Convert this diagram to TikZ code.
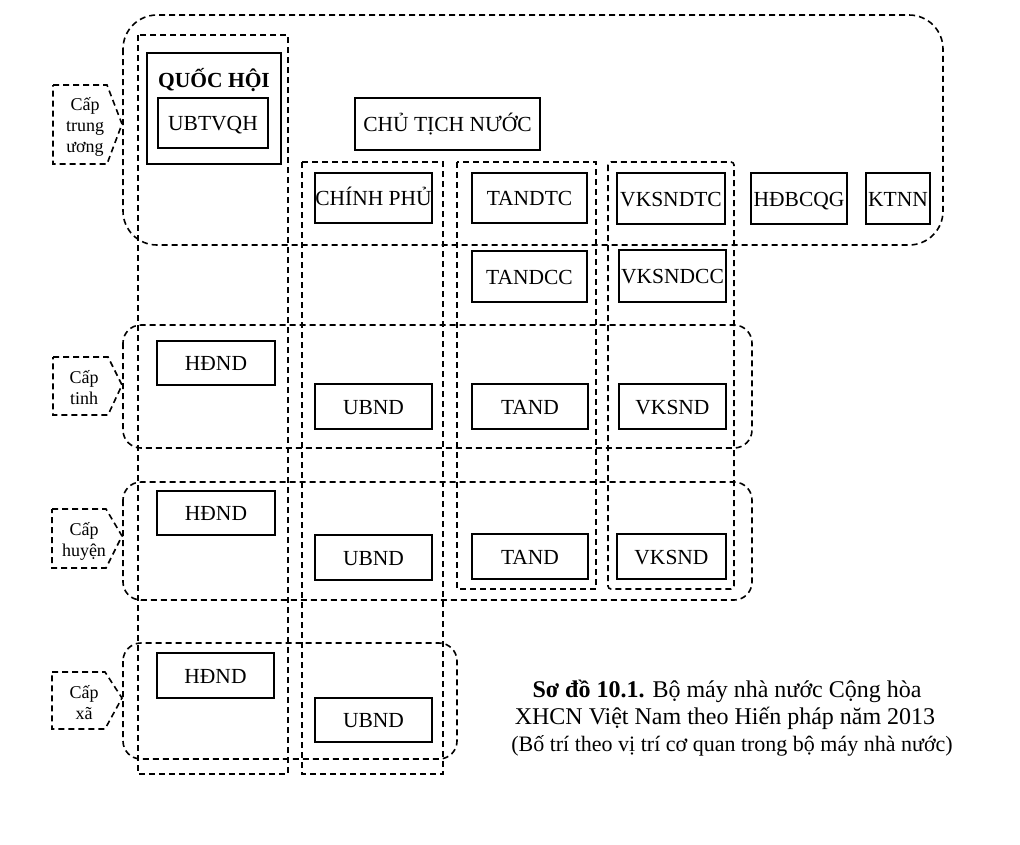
\documentclass[tikz,border=0pt]{standalone}
\usepackage{fontspec}
\setmainfont{Liberation Serif}
\begin{document}
\begin{tikzpicture}[x=1pt,y=-1pt,
  box/.style={draw, line width=1.2pt, inner sep=0pt, font=\fontsize{21.5}{24}\selectfont, text height=15pt, text depth=0pt},
  zone/.style={draw, line width=1.6pt, dash pattern=on 6pt off 4pt},
  lvl/.style={zone, rounded corners=18pt},
  lbl/.style={align=center, font=\fontsize{18}{21}\selectfont, inner sep=0pt},
  captext/.style={anchor=base, inner sep=0pt}]
\fill[white] (0,0) rectangle (1020,844);
\useasboundingbox (0,0) rectangle (1020,844);

% central level region
\draw[zone, rounded corners=34pt] (123,15) rectangle (943,245);
% local level regions
\draw[lvl] (123,325) rectangle (752,448);
\draw[lvl] (123,482) rectangle (752,600);
\draw[lvl] (123,643) rectangle (457,759);

% columns
\draw[zone] (138,35) rectangle (288,774);
\draw[zone] (302,162) rectangle (443,774);
\draw[zone] (457,162) rectangle (596,589);
\draw[zone, rounded corners=3pt] (608,162) rectangle (734,589);

% level labels
\draw[zone] (53,85) -- (107,85) -- (122,124) -- (107,164) -- (53,164) -- cycle;
\node[lbl] (ltw) at (85,127) {Cấp\\trung\\ương};
\draw[zone] (53,357) -- (108,357) -- (122,385) -- (108,415) -- (53,415) -- cycle;
\node[lbl] (ltinh) at (84,388) {Cấp\\tinh};
\draw[zone] (52,509) -- (106,509) -- (122,536) -- (106,568) -- (52,568) -- cycle;
\node[lbl] (lhuyen) at (84,541) {Cấp\\huyện};
\draw[zone] (52,672) -- (105,672) -- (122,698) -- (105,729) -- (52,729) -- cycle;
\node[lbl] (lxa) at (84,703) {Cấp\\xã};

% Quoc hoi
\node[box, line width=2pt, minimum width=134pt, minimum height=111pt] (qh) at (214,108.5) {};
\node[font=\fontsize{21.5}{24}\selectfont\bfseries, inner sep=0pt] (qhtext) at (214,80) {QUỐC HỘI};
\node[box, minimum width=110pt, minimum height=50pt] (ubtvqh) at (213,123) {UBTVQH};

% central boxes
\node[box, minimum width=185pt, minimum height=52pt] (ctn) at (447.5,124) {CHỦ TỊCH NƯỚC};
\node[box, minimum width=117pt, minimum height=50pt] (cp) at (373.5,198) {CHÍNH PHỦ};
\node[box, minimum width=115pt, minimum height=50pt] (tandtc) at (529.5,198) {TANDTC};
\node[box, minimum width=115pt, minimum height=51pt] (tandcc) at (529.5,276.5) {TANDCC};
\node[box, minimum width=108pt, minimum height=51pt] (vksndtc) at (671,198.5) {VKSNDTC};
\node[box, minimum width=96pt, minimum height=51pt] (hdbcqg) at (799,198.5) {HĐBCQG};
\node[box, minimum width=64pt, minimum height=51pt] (ktnn) at (898,198.5) {KTNN};
\node[box, minimum width=107pt, minimum height=52pt] (vksndcc) at (672.5,276) {VKSNDCC};

% province
\node[box, minimum width=118pt, minimum height=44pt] (hdnd1) at (216,363) {HĐND};
\node[box, minimum width=117pt, minimum height=45pt] (ubnd1) at (373.5,406.5) {UBND};
\node[box, minimum width=116pt, minimum height=45pt] (tand1) at (530,406.5) {TAND};
\node[box, minimum width=107pt, minimum height=45pt] (vksnd1) at (672.5,406.5) {VKSND};
% district
\node[box, minimum width=118pt, minimum height=44pt] (hdnd2) at (216,513) {HĐND};
\node[box, minimum width=117pt, minimum height=45pt] (ubnd2) at (373.5,557.5) {UBND};
\node[box, minimum width=116pt, minimum height=45pt] (tand2) at (530,556.5) {TAND};
\node[box, minimum width=109pt, minimum height=45pt] (vksnd2) at (671.5,556.5) {VKSND};
% commune
\node[box, minimum width=117pt, minimum height=45pt] (hdnd3) at (215.5,675.5) {HĐND};
\node[box, minimum width=117pt, minimum height=44pt] (ubnd3) at (373.5,720) {UBND};

% caption
\node[captext, font=\fontsize{24}{27}\selectfont] (cap1) at (727,697) {\textbf{Sơ đồ 10.1.} Bộ máy nhà nước Cộng hòa};
\node[captext, font=\fontsize{24}{27}\selectfont] (cap2) at (725,724) {XHCN Việt Nam theo Hiến pháp năm 2013};
\node[captext, font=\fontsize{22}{26}\selectfont] (cap3) at (732,751) {(Bố trí theo vị trí cơ quan trong bộ máy nhà nước)};
\end{tikzpicture}
\end{document}
